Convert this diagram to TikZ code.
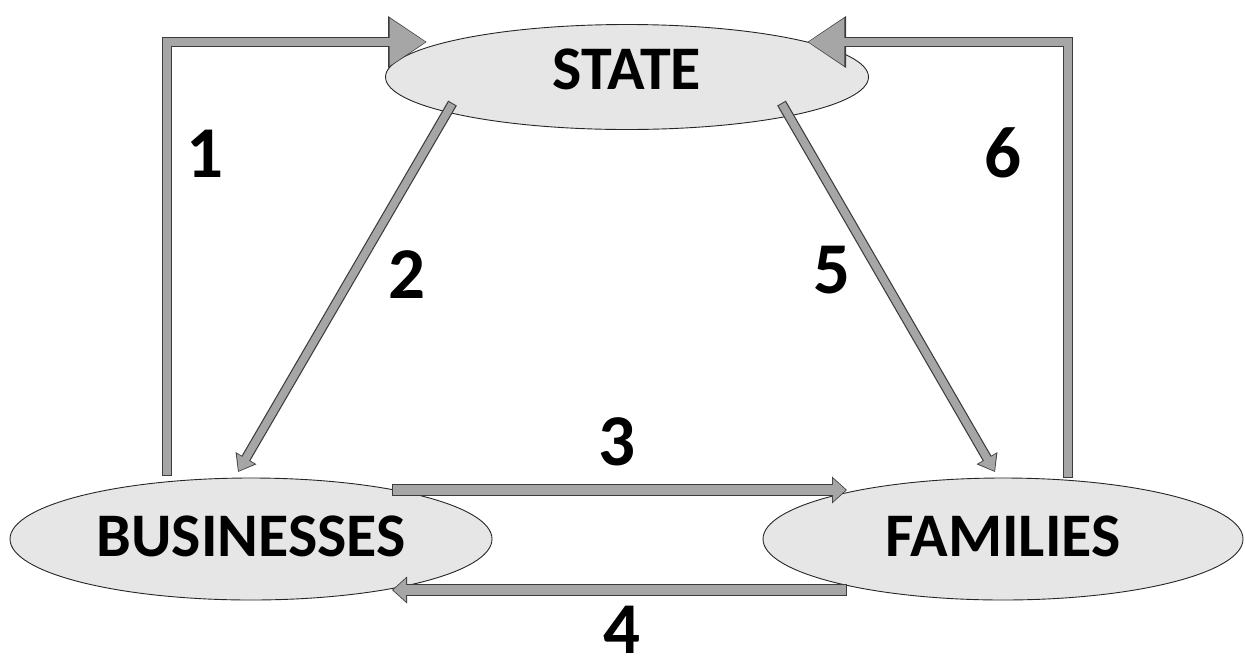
\documentclass[tikz,border=0pt]{standalone}
\usepackage{fontspec}
\setmainfont{Carlito}
\usetikzlibrary{arrows.meta,shapes.geometric,calc}
\definecolor{ellfill}{HTML}{E6E6E6}
\definecolor{arrfill}{HTML}{A6A6A6}
\definecolor{arrline}{HTML}{3C3C3C}
\newcommand\blockarr[3]{\draw[#1] #3; \draw[#2] #3;}
\begin{document}
\begin{tikzpicture}[x=1pt,y=-1pt,
  oval/.style={ellipse, draw=black!85, line width=0.9pt, fill=ellfill,
    font=\fontsize{62}{62}\selectfont\bfseries, inner sep=0pt},
  num/.style={font=\fontsize{73}{73}\selectfont\bfseries, inner sep=0pt},
  bigout/.style={draw=arrline, line width=10pt, line join=miter, shorten <=-1pt,
    -{Triangle[width=49pt,length=39pt]}},
  bigin/.style={draw=arrfill, line width=7.6pt, line join=miter, shorten >=1.3pt,
    -{Triangle[width=45.5pt,length=36pt]}},
  hout/.style={draw=arrline, line width=12pt, shorten <=-1pt,
    -{Triangle[width=26pt,length=15pt]}},
  hin/.style={draw=arrfill, line width=9.6pt, shorten >=1.2pt,
    -{Triangle[width=22.5pt,length=13pt]}},
  dout/.style={draw=arrline, line width=10pt, shorten <=-1pt,
    -{Triangle[width=23pt,length=16pt]}},
  din/.style={draw=arrfill, line width=7.6pt, shorten >=1.2pt,
    -{Triangle[width=19.5pt,length=14pt]}}
]
\useasboundingbox (0,0) rectangle (1245,665);

\node[oval, minimum width=483pt, minimum height=105pt, text depth=16pt] (st) at (627,77) {STATE};
\node[oval, minimum width=482pt, minimum height=122pt, text depth=6pt] (bus) at (251,539) {BUSINESSES};
\node[oval, minimum width=480pt, minimum height=122pt, text depth=6pt] (fam) at (1003,539) {FAMILIES};

% connector end points
\coordinate (a1s) at ($(bus.center)+(-84,-64)$);
\coordinate (a1c) at (a1s |- 0,42);
\coordinate (a1t) at ($(st.center)+(-200,-35)$);
\coordinate (a6s) at ($(fam.center)+(65,-62)$);
\coordinate (a6c) at (a6s |- 0,42);
\coordinate (a6t) at ($(st.center)+(180,-35)$);
\coordinate (a2s) at ($(st.center)+(-175,27)$);
\coordinate (a2t) at ($(bus.center)+(-13,-67)$);
\coordinate (a5s) at ($(st.center)+(155,27)$);
\coordinate (a5t) at ($(fam.center)+(-8,-67)$);
\coordinate (a3s) at ($(bus.center)+(142,-49)$);
\coordinate (a3t) at ($(fam.center)+(-156,-49)$);
\coordinate (a4s) at ($(fam.center)+(-157,51)$);
\coordinate (a4t) at ($(bus.center)+(141,51)$);

\blockarr{bigout}{bigin}{(a1s) -- (a1c) -- (a1t)}
\blockarr{bigout}{bigin}{(a6s) -- (a6c) -- (a6t)}
\blockarr{dout}{din}{(a2s) -- (a2t)}
\blockarr{dout}{din}{(a5s) -- (a5t)}
\blockarr{hout}{hin}{(a3s) -- (a3t)}
\blockarr{hout}{hin}{(a4s) -- (a4t)}

\node[num] (n1) at (205,154) {1};
\node[num] (n2) at (407,275) {2};
\node[num] (n3) at (617,442) {3};
\node[num] (n4) at (622,630) {4};
\node[num] (n5) at (832,270) {5};
\node[num] (n6) at (1003,153) {6};
\end{tikzpicture}
\end{document}
